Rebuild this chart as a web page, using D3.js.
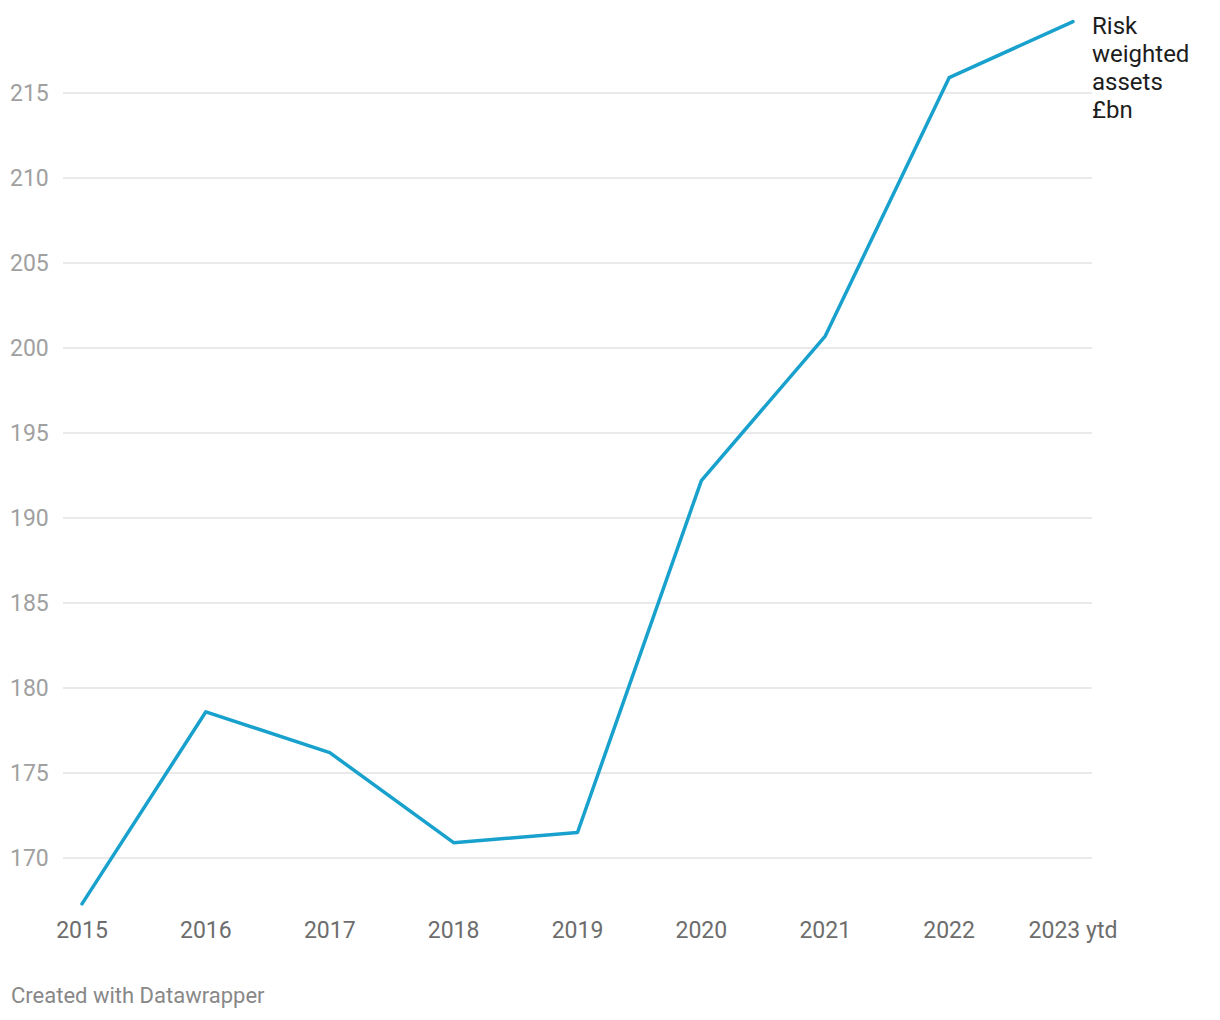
<!DOCTYPE html>
<html lang="en">
  <head>
    <meta charset="UTF-8" />
    <script src="https://d3js.org/d3.v7.min.js"></script>
    <title>Risk weighted assets</title>
    <style>
      body { margin: 0; background: #fff; font-family: Roboto, sans-serif; }
    </style>
  </head>
  <body>
    <svg id="chart" width="1220" height="1020"></svg>
    <script>
      // Data
      var years = ['2015', '2016', '2017', '2018', '2019', '2020', '2021', '2022', '2023 ytd'];
      var rwa = [167.3, 178.6, 176.2, 170.9, 171.5, 192.2, 200.7, 215.9, 219.2];
      var yTicks = [170, 175, 180, 185, 190, 195, 200, 205, 210, 215];
      var labelLines = ['Risk', 'weighted', 'assets', '£bn'];

      var svg = d3.select('#chart');

      var x = d3.scalePoint().domain(years).range([82, 1073]);
      var y = d3.scaleLinear().domain([170, 215]).range([858, 93]);

      // gridlines + y labels
      var grid = svg.append('g');
      grid.selectAll('line')
        .data(yTicks)
        .enter()
        .append('line')
        .attr('x1', 63)
        .attr('x2', 1092)
        .attr('y1', function(d) { return y(d); })
        .attr('y2', function(d) { return y(d); })
        .attr('stroke', '#e3e3e3')
        .attr('stroke-width', 1.5);

      grid.selectAll('text')
        .data(yTicks)
        .enter()
        .append('text')
        .attr('x', 10)
        .attr('y', function(d) { return y(d) + 8; })
        .attr('font-size', 23)
        .attr('fill', '#a0a0a0')
        .text(function(d) { return d; });

      // x labels
      svg.append('g').selectAll('text')
        .data(years)
        .enter()
        .append('text')
        .attr('x', function(d) { return x(d); })
        .attr('y', 938)
        .attr('text-anchor', 'middle')
        .attr('font-size', 23)
        .attr('fill', '#6d6d6d')
        .text(function(d) { return d; });

      // line
      var line = d3.line()
        .x(function(d, i) { return x(years[i]); })
        .y(function(d) { return y(d); });

      svg.append('path')
        .datum(rwa)
        .attr('d', line)
        .attr('fill', 'none')
        .attr('stroke', '#18a1cd')
        .attr('stroke-width', 3.5)
        .attr('stroke-linejoin', 'round')
        .attr('stroke-linecap', 'round');

      // series label
      var lbl = svg.append('text')
        .attr('x', 1092)
        .attr('y', 34)
        .attr('font-size', 24)
        .attr('fill', '#1d1d1d');
      lbl.selectAll('tspan')
        .data(labelLines)
        .enter()
        .append('tspan')
        .attr('x', 1092)
        .attr('dy', function(d, i) { return i === 0 ? 0 : 28; })
        .text(function(d) { return d; });

      // footer
      svg.append('text')
        .attr('x', 11)
        .attr('y', 1003)
        .attr('font-size', 22)
        .attr('fill', '#888')
        .text('Created with Datawrapper');
    </script>
  </body>
</html>
